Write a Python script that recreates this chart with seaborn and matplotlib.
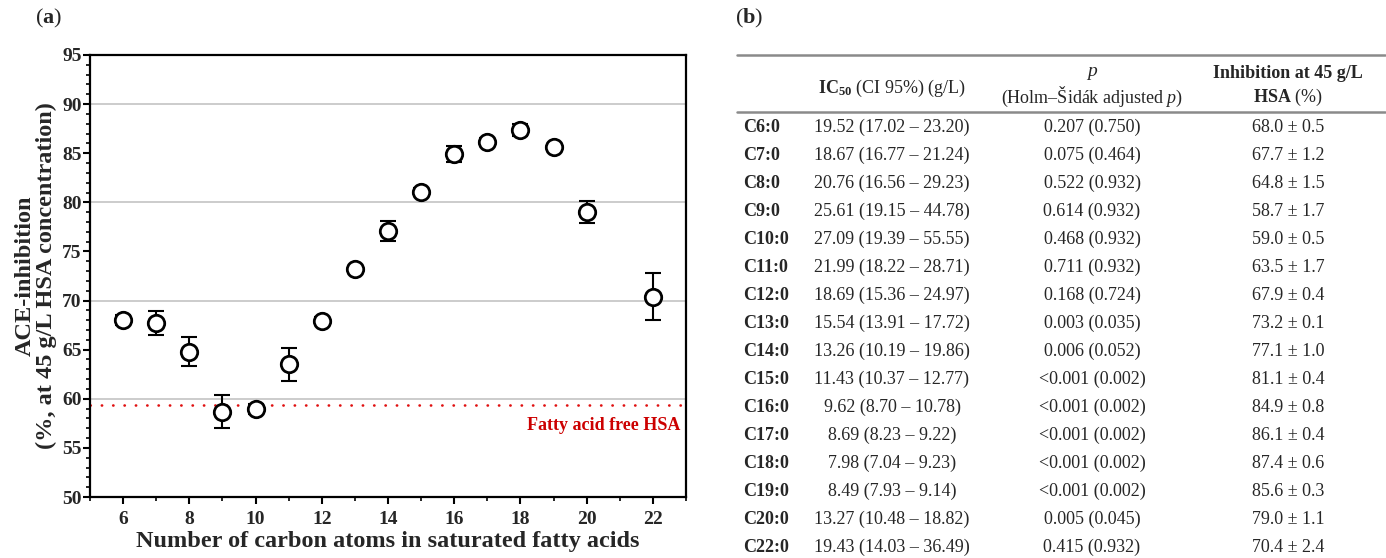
import numpy as np
import pandas as pd
import seaborn as sns
import matplotlib.pyplot as plt
from matplotlib.ticker import MultipleLocator
import matplotlib.transforms as mtransforms

# data
carbons = [6, 7, 8, 9, 10, 11, 12, 13, 14, 15, 16, 17, 18, 19, 20, 22]
inhibition = [68.0, 67.7, 64.8, 58.7, 59.0, 63.5, 67.9, 73.2, 77.1, 81.1, 84.9, 86.1, 87.4, 85.6, 79.0, 70.4]
inhibition_sd = [0.5, 1.2, 1.5, 1.7, 0.5, 1.7, 0.4, 0.1, 1.0, 0.4, 0.8, 0.4, 0.6, 0.3, 1.1, 2.4]
fa_free_hsa = 59.4

row_labels = ['C6:0', 'C7:0', 'C8:0', 'C9:0', 'C10:0', 'C11:0', 'C12:0', 'C13:0',
              'C14:0', 'C15:0', 'C16:0', 'C17:0', 'C18:0', 'C19:0', 'C20:0', 'C22:0']
ic50 = ['19.52 (17.02 – 23.20)', '18.67 (16.77 – 21.24)', '20.76 (16.56 – 29.23)',
        '25.61 (19.15 – 44.78)', '27.09 (19.39 – 55.55)', '21.99 (18.22 – 28.71)',
        '18.69 (15.36 – 24.97)', '15.54 (13.91 – 17.72)', '13.26 (10.19 – 19.86)',
        '11.43 (10.37 – 12.77)', '9.62 (8.70 – 10.78)', '8.69 (8.23 – 9.22)',
        '7.98 (7.04 – 9.23)', '8.49 (7.93 – 9.14)', '13.27 (10.48 – 18.82)',
        '19.43 (14.03 – 36.49)']
p_values = ['0.207 (0.750)', '0.075 (0.464)', '0.522 (0.932)', '0.614 (0.932)',
            '0.468 (0.932)', '0.711 (0.932)', '0.168 (0.724)', '0.003 (0.035)',
            '0.006 (0.052)', '<0.001 (0.002)', '<0.001 (0.002)', '<0.001 (0.002)',
            '<0.001 (0.002)', '<0.001 (0.002)', '0.005 (0.045)', '0.415 (0.932)']

df = pd.DataFrame({'carbons': carbons, 'inhibition': inhibition, 'sd': inhibition_sd})

sns.set_theme(style='ticks')
plt.rcParams['font.family'] = ['Liberation Serif', 'DejaVu Serif']
plt.rcParams['mathtext.fontset'] = 'custom'
plt.rcParams['mathtext.rm'] = 'Liberation Serif'
plt.rcParams['mathtext.it'] = 'Liberation Serif:italic'
plt.rcParams['mathtext.bf'] = 'Liberation Serif:bold'

W, H = 1386, 558
fig = plt.figure(figsize=(W / 100, H / 100), dpi=100)

# panel (a)
ax = fig.add_axes([90 / W, 1 - 497 / H, (686 - 90) / W, (497 - 55) / H])
for g in np.arange(60, 95, 10):
    ax.axhline(g, color='#c8c8c8', lw=1.3, zorder=0)
ax.axhline(fa_free_hsa, color='#e01010', lw=1.9, linestyle=(0, (0.1, 4.2)),
           dash_capstyle='round', zorder=1)
ax.errorbar(df['carbons'], df['inhibition'], yerr=df['sd'], fmt='none',
            ecolor='black', elinewidth=1.5, capsize=6, capthick=1.5, zorder=2)
sns.scatterplot(data=df, x='carbons', y='inhibition', ax=ax, marker='o', s=140,
                facecolor='white', edgecolor='black', linewidth=2.0, zorder=3)

ax.set_xlim(5, 23)
ax.set_ylim(50, 95)
ax.xaxis.set_major_locator(MultipleLocator(2))
ax.xaxis.set_minor_locator(MultipleLocator(1))
ax.yaxis.set_major_locator(MultipleLocator(5))
ax.yaxis.set_minor_locator(MultipleLocator(1))
ax.tick_params(axis='both', which='major', length=5, width=1.5, labelsize=14,
               direction='out', color='black')
ax.tick_params(axis='both', which='minor', length=3, width=1.2, direction='out', color='black')
ax.tick_params(axis='x', pad=5)
ax.tick_params(axis='y', pad=1)
for lab in ax.get_xticklabels() + ax.get_yticklabels():
    lab.set_fontweight('bold')
for sp in ax.spines.values():
    sp.set_visible(True)
    sp.set_color('black')
    sp.set_linewidth(1.6)

ax.set_xlabel('Number of carbon atoms in saturated fatty acids', fontsize=17.5,
              fontweight='bold', labelpad=2)
ax.set_ylabel('ACE-inhibition\n(%, at 45 g/L HSA concentration)', fontsize=17.5,
              fontweight='bold', labelpad=4, linespacing=1.0)

trans = mtransforms.blended_transform_factory(ax.transAxes, ax.transData)
ax.text(0.99, 57.3, 'Fatty acid free HSA', transform=trans, color='#cc0000',
        fontsize=13, fontweight='bold', ha='right', va='center')

fig.text(35 / W, 1 - 18 / H, r'($\mathbf{a}$)', fontsize=16, ha='left', va='center')

# panel (b): table
tb = fig.add_axes([0, 0, 1, 1])
tb.set_xlim(0, W)
tb.set_ylim(H, 0)
tb.axis('off')
tb.patch.set_alpha(0)

tb.text(735, 18, r'($\mathbf{b}$)', fontsize=16, ha='left', va='center')
tb.plot([737, 1385], [55, 55], color='#8a8a8a', lw=1.8)
tb.plot([737, 1385], [112, 112], color='#8a8a8a', lw=1.8)

fs = 13
col_ic, col_p, col_inh = 892, 1092, 1288
tb.text(col_ic, 88, r'$\mathbf{IC}_{\mathbf{50}}$ (CI 95%) (g/L)', fontsize=fs, ha='center', va='center')
tb.text(col_p, 73, r'$p$', fontsize=fs + 1, ha='center', va='center')
tb.text(col_p, 97, r'(Holm–Šidák adjusted $p$)', fontsize=fs, ha='center', va='center')
tb.text(col_inh, 73, 'Inhibition at 45 g/L', fontsize=fs, fontweight='bold', ha='center', va='center')
tb.text(col_inh, 97, r'$\mathbf{HSA}$ (%)', fontsize=fs, ha='center', va='center')

row_y = 127
for lab, ic, pv, m, s in zip(row_labels, ic50, p_values, inhibition, inhibition_sd):
    tb.text(743, row_y, lab, fontsize=fs, fontweight='bold', ha='left', va='center')
    tb.text(col_ic, row_y, ic, fontsize=fs, ha='center', va='center')
    tb.text(col_p, row_y, pv, fontsize=fs, ha='center', va='center')
    tb.text(col_inh, row_y, f'{m:.1f} ± {s:.1f}', fontsize=fs, ha='center', va='center')
    row_y += 28

fig.savefig('out.png', dpi=100)
